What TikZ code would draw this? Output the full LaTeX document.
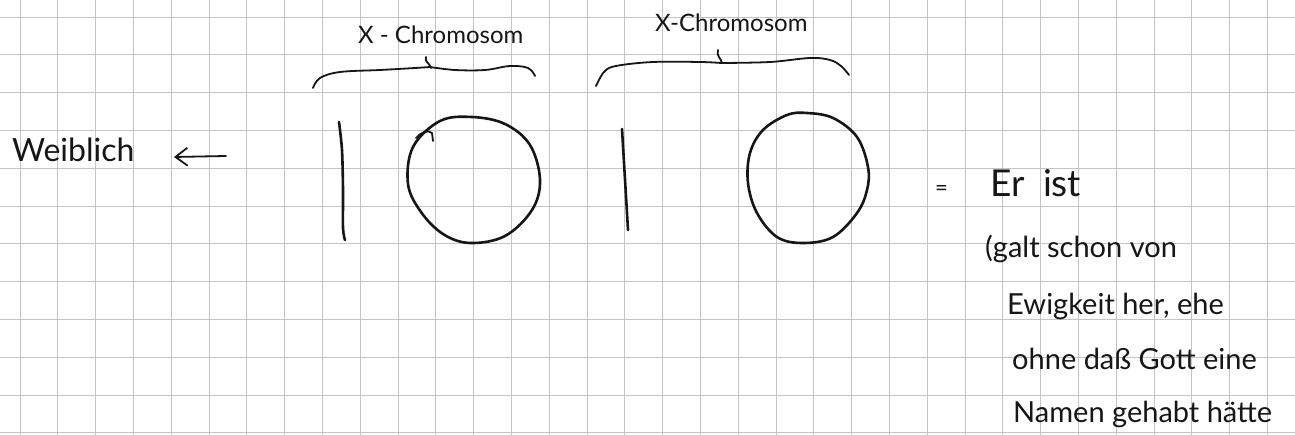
\documentclass[tikz,border=0pt]{standalone}
\usepackage{fontspec}
\setmainfont{Lato}
\usetikzlibrary{arrows.meta}
\definecolor{paper}{HTML}{FFFFFF}
\definecolor{gridgray}{HTML}{C4C4C4}
\definecolor{ink}{HTML}{161616}

\begin{document}
\begin{tikzpicture}[x=1pt,y=-1pt,line cap=round,line join=round,
  pen/.style={line width=2.6pt,ink},
  penthin/.style={line width=1.8pt,ink},
  gridline/.style={line width=0.9pt,gridgray},
  hand/.style={font=\fontsize{#1}{#1}\selectfont,text=ink,inner sep=0pt}]
  \useasboundingbox (0,0) rectangle (1295,435);
  \fill[paper] (0,0) rectangle (1295,435);

  % ---- squared paper ----
  \foreach \i in {0,...,33}{\draw[gridline] ({20+37.8*\i},0) -- ({20+37.8*\i},435);}
  \foreach \j in {0,...,11}{\draw[gridline] (0,{17+37.8*\j}) -- (1295,{17+37.8*\j});}

  % ---- left: weiblich <- ----
  \node[hand=32,anchor=base west] (weiblich) at (12,162) {Weiblich};
  \coordinate (pfeilstart) at (226,156);
  \coordinate (pfeilspitze) at (174,157);
  \draw[penthin,-{Straight Barb[length=12pt,width=18pt]}] (pfeilstart) -- (pfeilspitze);

  % ---- labels over the braces ----
  \node[hand=24,anchor=base west] (xlinks) at (358,44) {X - Chromosom};
  \node[hand=24,anchor=base west] (xrechts) at (655,32) {X-Chromosom};

  % ---- braces ----
  \draw[penthin] plot[smooth,tension=0.6] coordinates {(313,88) (320,78) (340,72) (380,70) (415,68) (430,67)};
  \draw[penthin] plot[smooth,tension=0.6] coordinates {(430,67) (455,70) (485,70) (510,66) (528,68) (535,76)};
  \draw[penthin] (426,57) .. controls (424,62) and (430,63) .. (431,68);
  \draw[penthin] plot[smooth,tension=0.6] coordinates {(596,86) (604,72) (616,66) (653,62) (700,62) (721,63)};
  \draw[penthin] plot[smooth,tension=0.6] coordinates {(721,63) (770,62) (810,58) (830,60) (841,66) (849,75)};
  \draw[penthin] (718,50) .. controls (716,56) and (721,58) .. (722,63);

  % ---- first chromosome pair (bar + ring) ----
  \draw[pen] plot[smooth] coordinates {(339,122) (342,150) (343,190) (343,228) (345,240)};
  \draw[pen] plot[smooth cycle,tension=0.6] coordinates {(413,147) (440,121) (472,117) (505,124) (530,145) (540,180) (532,210) (505,236) (470,243) (443,234) (421,212) (408,184)};
  \draw[penthin] (416,138) .. controls (420,133) and (428,129) .. (432,133) -- (433,141);

  % ---- second chromosome pair (bar + ring) ----
  \draw[pen] (622,129) -- (628,230);
  \draw[pen] plot[smooth cycle,tension=0.6] coordinates {(763,130) (787,115) (807,113) (833,118) (857,137) (868,167) (867,190) (857,213) (833,237) (803,243) (777,237) (757,213) (748,183) (750,153)};

  % ---- right: = Er ist ... ----
  \node[hand=22,anchor=base west] (gleich) at (935,196) {=};
  \node[hand=37,anchor=base west] (erist) at (990,197) {Er\enspace ist};
  \node[hand=29,anchor=base west] (zeile1) at (985,258) {(galt schon von};
  \node[hand=29,anchor=base west] (zeile2) at (1007,315) {Ewigkeit her, ehe};
  \node[hand=29,anchor=base west] (zeile3) at (1012,369) {ohne daß Gott eine};
  \node[hand=29,anchor=base west] (zeile4) at (1013,422) {Namen gehabt hätte};
\end{tikzpicture}
\end{document}
